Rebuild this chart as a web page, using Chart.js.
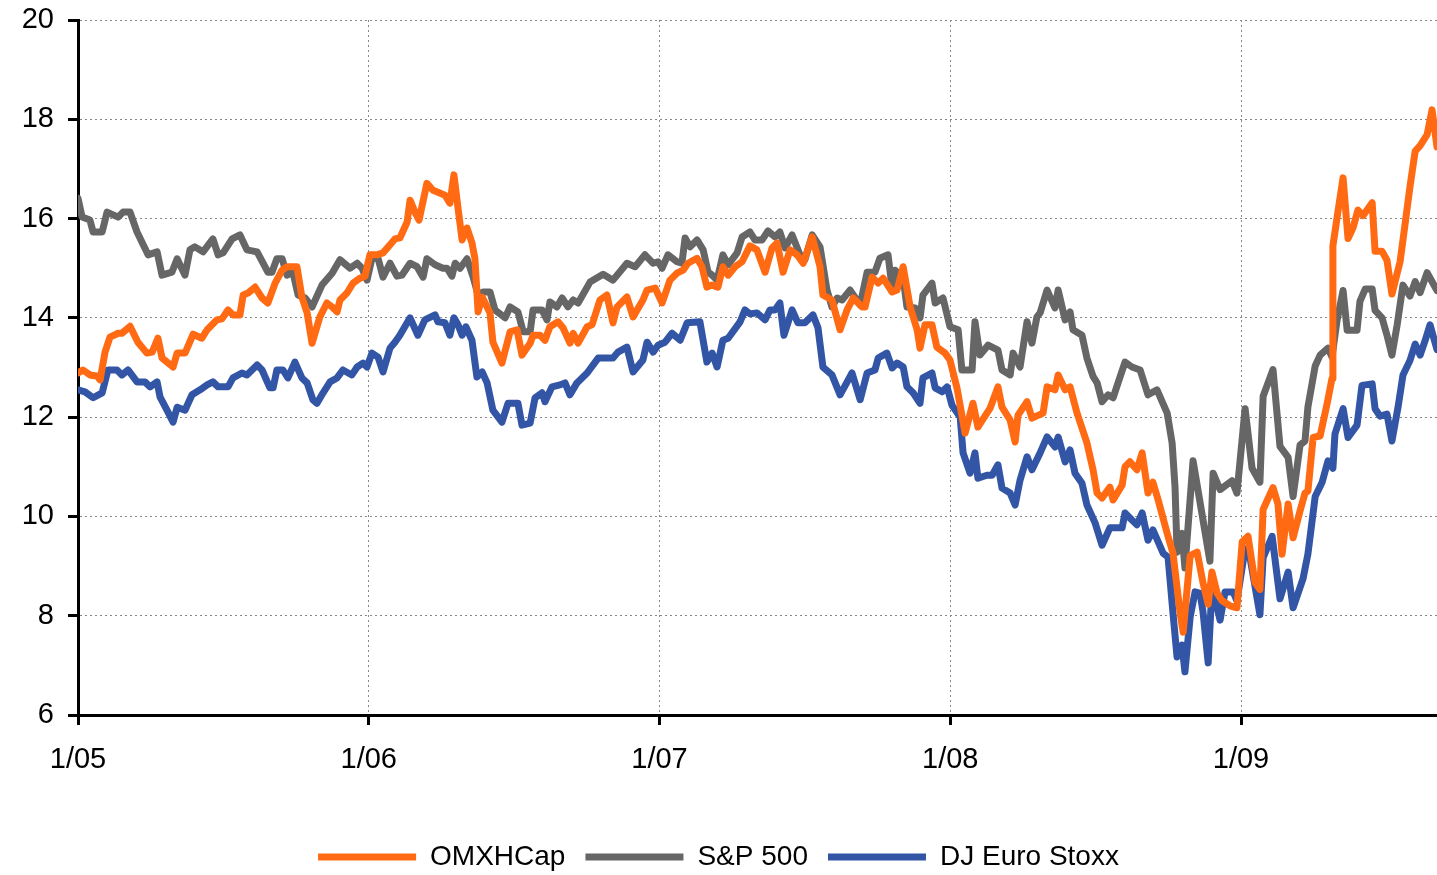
<!DOCTYPE html>
<html>
<head>
<meta charset="utf-8">
<script src="https://cdn.jsdelivr.net/npm/chart.js@4.4.1/dist/chart.umd.min.js"></script>
<style>
  html, body { margin: 0; padding: 0; background: #ffffff; }
  #wrap { width: 1437px; height: 875px; }
</style>
</head>
<body>
<div id="wrap"><canvas id="c" width="1437" height="875"></canvas></div>
<script>
// ---- data (dates as decimal years) ----
const seriesNames = ['OMXHCap', 'S&P 500', 'DJ Euro Stoxx'];
const yearTicks = [2005, 2006, 2007, 2008, 2009];
const tickLabels = ['1/05', '1/06', '1/07', '1/08', '1/09'];
const yTicks = [6, 8, 10, 12, 14, 16, 18, 20];

const omxDates = [
2005.000,2005.017,2005.041,2005.065,2005.076,2005.093,2005.110,2005.138,2005.151,2005.179,
2005.206,2005.237,2005.255,2005.275,2005.289,2005.327,2005.341,2005.368,2005.396,2005.426,
2005.444,2005.478,2005.495,2005.516,2005.533,2005.557,2005.568,2005.585,2005.609,2005.633,
2005.653,2005.678,2005.702,2005.719,2005.753,2005.770,2005.788,2005.805,2005.832,2005.856,
2005.874,2005.891,2005.901,2005.925,2005.946,2005.970,2005.987,2006.004,2006.028,2006.049,
2006.073,2006.090,2006.107,2006.132,2006.142,2006.159,2006.173,2006.200,2006.221,2006.238,
2006.262,2006.279,2006.293,2006.307,2006.321,2006.338,2006.355,2006.365,2006.376,2006.390,
2006.417,2006.427,2006.458,2006.486,2006.510,2006.527,2006.555,2006.565,2006.589,2006.606,
2006.623,2006.651,2006.668,2006.692,2006.703,2006.720,2006.751,2006.768,2006.795,2006.819,
2006.840,2006.854,2006.888,2006.909,2006.943,2006.957,2006.985,2007.009,2007.036,2007.060,
2007.081,2007.098,2007.129,2007.146,2007.163,2007.181,2007.201,2007.218,2007.236,2007.260,
2007.284,2007.311,2007.335,2007.363,2007.387,2007.404,2007.425,2007.449,2007.473,2007.494,
2007.525,2007.552,2007.562,2007.593,2007.621,2007.645,2007.666,2007.697,2007.707,2007.731,
2007.752,2007.769,2007.800,2007.817,2007.838,2007.862,2007.886,2007.896,2007.913,2007.937,
2007.954,2007.982,2007.999,2008.023,2008.051,2008.078,2008.095,2008.137,2008.164,2008.178,
2008.206,2008.223,2008.233,2008.264,2008.281,2008.319,2008.333,2008.360,2008.371,2008.395,
2008.412,2008.436,2008.470,2008.491,2008.505,2008.522,2008.549,2008.560,2008.591,2008.601,
2008.618,2008.642,2008.660,2008.680,2008.697,2008.715,2008.746,2008.766,2008.790,2008.801,
2008.825,2008.849,2008.869,2008.887,2008.900,2008.918,2008.935,2008.962,2008.986,2009.004,
2009.024,2009.048,2009.065,2009.076,2009.093,2009.110,2009.127,2009.141,2009.162,2009.179,
2009.203,2009.220,2009.230,2009.248,2009.272,2009.296,2009.313,2009.316,2009.334,2009.351,
2009.368,2009.385,2009.402,2009.420,2009.451,2009.461,2009.485,2009.502,2009.519,2009.547,
2009.564,2009.581,2009.599,2009.616,2009.640,2009.657,2009.674];
const omxValues = [
12.89,12.95,12.85,12.83,12.75,13.31,13.61,13.69,13.69,13.83,
13.51,13.29,13.31,13.59,13.19,13.01,13.29,13.29,13.67,13.59,
13.76,13.96,13.98,14.16,14.06,14.06,14.46,14.50,14.62,14.40,
14.30,14.70,14.96,15.03,15.03,14.42,14.10,13.49,14.02,14.30,
14.22,14.12,14.36,14.50,14.70,14.80,14.84,15.27,15.27,15.31,
15.47,15.59,15.61,15.93,16.37,16.13,15.97,16.71,16.57,16.53,
16.47,16.31,16.88,16.21,15.57,15.81,15.51,15.20,14.12,14.42,
14.10,13.51,13.09,13.72,13.76,13.25,13.49,13.65,13.65,13.55,
13.82,13.92,13.80,13.49,13.69,13.49,13.82,13.86,14.36,14.46,
13.90,14.22,14.42,14.02,14.36,14.56,14.60,14.30,14.76,14.90,
14.96,15.10,15.20,15.03,14.62,14.66,14.62,15.03,14.86,15.03,
15.13,15.45,15.37,14.92,15.41,15.51,14.92,15.37,15.27,15.10,
15.63,15.03,14.46,14.36,13.76,14.16,14.40,14.22,14.22,14.82,
14.70,14.80,14.52,14.56,15.03,14.22,13.76,13.39,13.86,13.86,
13.41,13.29,13.15,12.59,11.68,12.28,11.80,12.18,12.61,12.20,
11.94,11.50,12.04,12.31,11.98,12.08,12.61,12.55,12.85,12.55,
12.61,12.08,11.48,10.94,10.47,10.37,10.59,10.33,10.63,11.00,
11.10,10.94,11.28,10.47,10.69,10.33,9.66,9.26,8.07,7.67,
9.21,9.28,8.67,8.23,8.88,8.45,8.30,8.20,8.16,9.49,
9.60,8.67,8.53,10.14,10.36,10.58,10.25,9.24,10.25,9.57,
10.11,10.47,10.51,11.59,11.62,12.27,12.78,15.45,16.17,16.82,
15.60,15.81,16.17,16.06,16.32,15.34,15.34,15.16,14.48,15.13,
15.88,16.64,17.36,17.47,17.69,18.19,17.44];

const spDates = [
2005.000,2005.014,2005.041,2005.052,2005.083,2005.100,2005.138,2005.155,2005.179,2005.203,
2005.241,2005.272,2005.289,2005.323,2005.341,2005.368,2005.385,2005.402,2005.430,2005.464,
2005.482,2005.499,2005.530,2005.557,2005.581,2005.616,2005.653,2005.667,2005.684,2005.702,
2005.719,2005.739,2005.757,2005.781,2005.805,2005.839,2005.874,2005.901,2005.936,2005.960,
2005.977,2005.994,2006.011,2006.032,2006.049,2006.073,2006.097,2006.114,2006.142,2006.166,
2006.187,2006.200,2006.228,2006.255,2006.269,2006.286,2006.297,2006.314,2006.338,2006.359,
2006.376,2006.393,2006.417,2006.434,2006.469,2006.486,2006.513,2006.531,2006.555,2006.565,
2006.596,2006.613,2006.623,2006.647,2006.665,2006.685,2006.703,2006.720,2006.761,2006.806,
2006.840,2006.888,2006.916,2006.950,2006.978,2006.995,2007.009,2007.029,2007.060,2007.077,
2007.088,2007.105,2007.129,2007.150,2007.167,2007.181,2007.198,2007.218,2007.236,2007.267,
2007.284,2007.311,2007.328,2007.353,2007.373,2007.397,2007.414,2007.432,2007.456,2007.483,
2007.500,2007.525,2007.552,2007.576,2007.593,2007.611,2007.628,2007.655,2007.690,2007.714,
2007.741,2007.758,2007.786,2007.800,2007.810,2007.838,2007.851,2007.879,2007.896,2007.906,
2007.937,2007.948,2007.975,2007.999,2008.027,2008.040,2008.075,2008.085,2008.102,2008.130,
2008.164,2008.178,2008.206,2008.216,2008.240,2008.264,2008.281,2008.298,2008.309,2008.333,
2008.360,2008.371,2008.395,2008.412,2008.422,2008.453,2008.470,2008.491,2008.505,2008.522,
2008.543,2008.560,2008.577,2008.601,2008.625,2008.653,2008.680,2008.711,2008.746,2008.763,
2008.773,2008.780,2008.797,2008.807,2008.835,2008.866,2008.893,2008.904,2008.928,2008.969,
2008.986,2009.014,2009.038,2009.065,2009.076,2009.110,2009.134,2009.162,2009.179,2009.203,
2009.220,2009.230,2009.255,2009.272,2009.299,2009.313,2009.330,2009.351,2009.365,2009.399,
2009.409,2009.427,2009.451,2009.461,2009.485,2009.502,2009.519,2009.537,2009.557,2009.581,
2009.599,2009.616,2009.640,2009.674];
const spValues = [
16.41,16.03,15.97,15.73,15.73,16.13,16.03,16.13,16.13,15.73,
15.27,15.33,14.86,14.92,15.19,14.86,15.37,15.43,15.33,15.59,
15.27,15.31,15.59,15.67,15.37,15.33,14.92,14.92,15.19,15.19,
14.86,14.92,14.46,14.40,14.22,14.66,14.90,15.17,15.00,15.10,
15.00,14.76,15.20,15.20,14.82,15.10,14.84,14.86,15.10,15.03,
14.82,15.19,15.07,15.00,15.00,14.84,15.10,15.00,15.19,14.82,
14.46,14.52,14.52,14.16,14.00,14.22,14.12,13.72,13.72,14.16,
14.16,13.96,14.32,14.22,14.40,14.22,14.36,14.30,14.72,14.88,
14.76,15.10,15.03,15.27,15.10,15.13,15.00,15.27,15.13,15.10,
15.61,15.43,15.57,15.37,14.92,14.86,14.76,15.27,15.07,15.31,
15.63,15.73,15.57,15.57,15.75,15.63,15.73,15.41,15.67,15.27,
15.17,15.67,15.43,14.56,14.22,14.40,14.36,14.56,14.26,14.92,
14.92,15.20,15.27,14.60,14.96,14.80,14.22,14.20,14.00,14.46,
14.70,14.30,14.40,13.82,13.76,12.95,12.95,13.92,13.25,13.45,
13.35,12.95,12.85,13.29,13.01,13.92,13.49,14.02,14.10,14.56,
14.20,14.56,13.96,14.12,13.76,13.65,13.19,12.82,12.69,12.31,
12.45,12.39,12.69,13.11,13.01,12.95,12.45,12.55,12.08,11.48,
10.59,9.28,9.66,8.96,11.12,10.04,9.10,10.87,10.54,10.72,
10.47,12.17,10.97,10.69,12.42,12.96,11.41,11.19,10.40,11.44,
11.52,12.20,13.03,13.25,13.39,13.21,13.94,14.55,13.75,13.75,
14.33,14.58,14.58,14.15,14.00,13.65,13.25,13.86,14.66,14.44,
14.73,14.51,14.91,14.55];

const djDates = [
2005.000,2005.024,2005.052,2005.083,2005.103,2005.134,2005.151,2005.172,2005.203,2005.230,
2005.248,2005.272,2005.282,2005.306,2005.327,2005.341,2005.368,2005.392,2005.420,2005.444,
2005.464,2005.482,2005.516,2005.533,2005.564,2005.581,2005.616,2005.633,2005.660,2005.671,
2005.684,2005.705,2005.722,2005.746,2005.770,2005.788,2005.808,2005.822,2005.843,2005.867,
2005.891,2005.911,2005.942,2005.960,2005.980,2005.994,2006.011,2006.032,2006.049,2006.073,
2006.090,2006.107,2006.132,2006.142,2006.169,2006.193,2006.228,2006.238,2006.262,2006.279,
2006.293,2006.307,2006.321,2006.334,2006.355,2006.372,2006.390,2006.407,2006.427,2006.458,
2006.479,2006.513,2006.527,2006.555,2006.572,2006.596,2006.606,2006.630,2006.658,2006.675,
2006.692,2006.716,2006.751,2006.789,2006.840,2006.857,2006.888,2006.909,2006.943,2006.957,
2006.978,2006.995,2007.019,2007.043,2007.071,2007.095,2007.139,2007.163,2007.181,2007.198,
2007.218,2007.236,2007.277,2007.294,2007.311,2007.335,2007.363,2007.380,2007.397,2007.414,
2007.428,2007.456,2007.476,2007.500,2007.528,2007.545,2007.562,2007.593,2007.621,2007.662,
2007.690,2007.714,2007.741,2007.752,2007.782,2007.800,2007.817,2007.838,2007.851,2007.872,
2007.896,2007.906,2007.937,2007.948,2007.972,2007.989,2008.006,2008.034,2008.044,2008.068,
2008.085,2008.095,2008.126,2008.144,2008.164,2008.178,2008.206,2008.223,2008.240,2008.264,
2008.281,2008.309,2008.333,2008.360,2008.371,2008.395,2008.412,2008.429,2008.453,2008.470,
2008.498,2008.522,2008.549,2008.591,2008.601,2008.618,2008.642,2008.660,2008.680,2008.697,
2008.732,2008.749,2008.766,2008.780,2008.797,2008.807,2008.825,2008.842,2008.859,2008.869,
2008.887,2008.900,2008.918,2008.928,2008.945,2008.973,2008.986,2009.014,2009.031,2009.065,
2009.076,2009.107,2009.134,2009.162,2009.179,2009.213,2009.230,2009.255,2009.279,2009.299,
2009.316,2009.323,2009.351,2009.368,2009.399,2009.416,2009.451,2009.461,2009.478,2009.502,
2009.519,2009.540,2009.557,2009.581,2009.599,2009.616,2009.633,2009.650,2009.674];
const djValues = [
12.55,12.51,12.39,12.49,12.95,12.95,12.85,12.95,12.71,12.71,
12.61,12.71,12.41,12.14,11.90,12.20,12.14,12.45,12.55,12.65,
12.71,12.61,12.61,12.79,12.89,12.85,13.05,12.95,12.59,12.59,
12.95,12.95,12.79,13.11,12.79,12.69,12.35,12.28,12.49,12.71,
12.79,12.95,12.85,13.01,13.09,13.01,13.29,13.21,12.91,13.39,
13.51,13.65,13.90,14.00,13.65,13.96,14.06,13.92,13.90,13.65,
14.00,13.86,13.65,13.82,13.55,12.81,12.91,12.69,12.14,11.90,
12.28,12.28,11.84,11.88,12.39,12.49,12.31,12.61,12.65,12.69,
12.45,12.69,12.89,13.19,13.19,13.31,13.41,12.91,13.15,13.51,
13.31,13.45,13.51,13.69,13.55,13.90,13.92,13.11,13.29,13.01,
13.55,13.59,13.92,14.16,14.08,14.10,13.96,14.16,14.16,14.30,
13.65,14.16,13.90,13.90,14.06,13.80,13.01,12.85,12.45,12.89,
12.35,12.89,12.95,13.19,13.29,12.99,13.09,13.01,12.61,12.49,
12.28,12.79,12.89,12.59,12.51,12.61,12.24,12.00,11.28,10.87,
11.28,10.77,10.83,10.83,11.04,10.57,10.47,10.23,10.73,11.20,
10.94,11.28,11.60,11.40,11.60,11.10,11.34,10.87,10.67,10.23,
9.87,9.42,9.77,9.77,10.07,9.97,9.83,10.07,9.52,9.73,
9.26,9.18,8.05,7.17,7.41,6.87,7.97,8.48,8.45,8.09,
7.05,8.56,8.16,7.91,8.48,8.48,8.30,9.35,9.17,8.02,
9.17,9.60,8.34,8.88,8.16,8.74,9.24,10.40,10.69,11.12,
10.97,11.66,12.17,11.59,11.84,12.64,12.67,12.17,12.02,12.06,
11.52,12.20,12.85,13.14,13.47,13.25,13.54,13.86,13.36];

const colors = ['#FF6A13', '#666666', '#3355A5'];

function pts(dates, values) {
  return dates.map((x, i) => ({ x: x, y: values[i] }));
}
function lineSet(label, dates, values, color) {
  return {
    label: label,
    data: pts(dates, values),
    borderColor: color,
    backgroundColor: color,
    borderWidth: 7,
    pointRadius: 0,
    pointHoverRadius: 0,
    tension: 0,
    borderJoinStyle: 'round',
    borderCapStyle: 'round'
  };
}

const tickFont = { family: 'Liberation Sans', size: 29 };

new Chart(document.getElementById('c').getContext('2d'), {
  type: 'line',
  data: {
    datasets: [
      lineSet(seriesNames[0], omxDates, omxValues, colors[0]),
      lineSet(seriesNames[1], spDates, spValues, colors[1]),
      lineSet(seriesNames[2], djDates, djValues, colors[2])
    ]
  },
  options: {
    responsive: false,
    animation: false,
    devicePixelRatio: 1,
    layout: { padding: { top: 20, right: 0, left: 0, bottom: -6 } },
    plugins: {
      tooltip: { enabled: false },
      legend: {
        position: 'bottom',
        labels: {
          usePointStyle: true,
          pointStyle: 'line',
          pointStyleWidth: 98,
          padding: 20,
          color: '#000000',
          font: { family: 'Liberation Sans', size: 28 }
        }
      }
    },
    scales: {
      x: {
        type: 'linear',
        min: 2005,
        max: 2009.674,
        afterBuildTicks: (s) => { s.ticks = yearTicks.map(v => ({ value: v })); },
        afterFit: (s) => { s.height = 108; s.paddingLeft = 0; s.paddingRight = 0; },
        ticks: {
          autoSkip: false,
          maxRotation: 0,
          padding: 18,
          color: '#000000',
          font: tickFont,
          callback: (v, i) => tickLabels[i]
        },
        grid: {
          color: '#888888',
          lineWidth: 1,
          tickLength: 10,
          tickColor: '#000000',
          tickWidth: 3,
          tickBorderDash: []
        },
        border: { color: '#000000', width: 3, dash: [2, 3] }
      },
      y: {
        min: 6,
        max: 20,
        afterBuildTicks: (s) => { s.ticks = yTicks.map(v => ({ value: v })); },
        afterFit: (s) => { s.width = 78; s.paddingTop = 0; s.paddingBottom = 0; },
        ticks: {
          padding: 14,
          color: '#000000',
          font: tickFont
        },
        grid: {
          color: '#888888',
          lineWidth: 1,
          tickLength: 10,
          tickColor: '#000000',
          tickWidth: 3,
          tickBorderDash: []
        },
        border: { color: '#000000', width: 3, dash: [2, 3] }
      }
    }
  }
});
</script>
</body>
</html>
